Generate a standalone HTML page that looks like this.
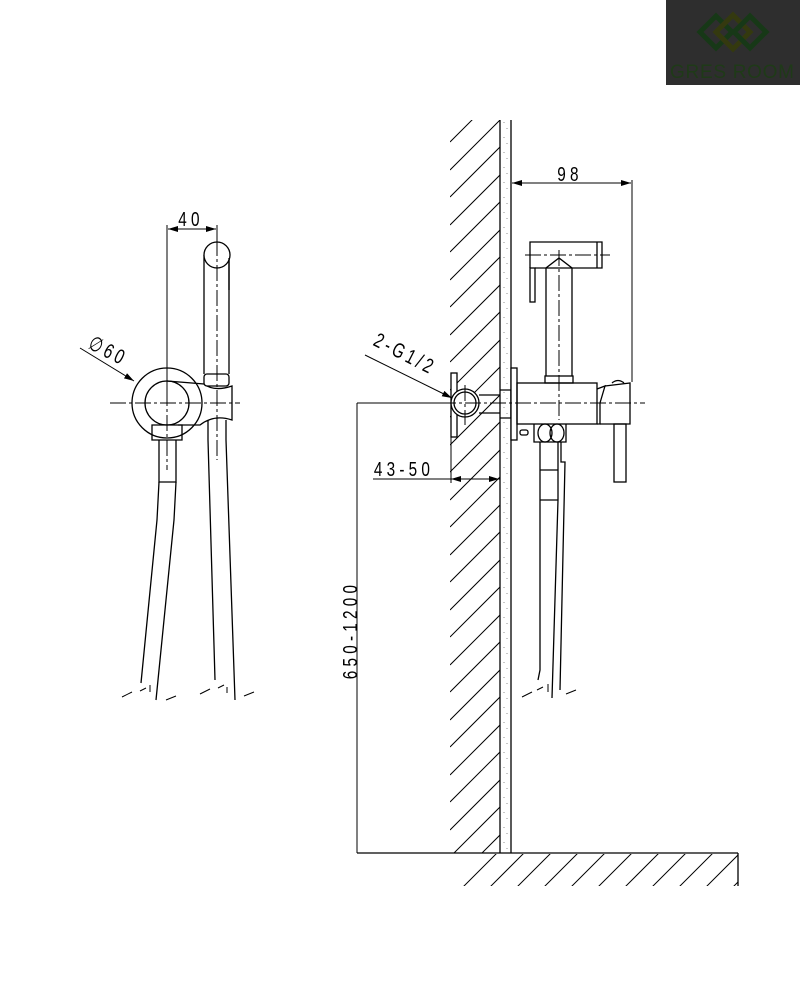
<!DOCTYPE html>
<html><head><meta charset="utf-8"><style>
html,body{margin:0;padding:0;background:#fff;width:800px;height:994px;overflow:hidden}
svg{display:block}
text{font-family:"Liberation Sans",sans-serif;fill:#000}
</style></head><body>
<svg width="800" height="994" viewBox="0 0 800 994" xmlns="http://www.w3.org/2000/svg">
<defs>
<marker id="a" markerWidth="10" markerHeight="6" refX="10" refY="3" orient="auto" markerUnits="userSpaceOnUse"><path d="M0,0 L10,3 L0,6 Z" fill="#000"/></marker>
<clipPath id="wall"><rect x="450" y="120" width="50" height="733"/></clipPath>
<clipPath id="floor"><rect x="450" y="854" width="288" height="32"/></clipPath>
</defs>
<!-- logo -->
<rect x="666" y="0" width="134" height="85" fill="#2e2e2e"/>
<g fill="none" stroke-width="5">
<path d="M700,32 L716,16 L732,32 L716,48 Z" stroke="#173817"/>
<path d="M716,32 L733,15 L750,32 L733,49 Z" stroke="#34390f"/>
<path d="M734,32 L750,16 L766,32 L750,48 Z" stroke="#173817"/>
</g>
<text x="732" y="78" font-size="19" text-anchor="middle" style="fill:#1f3a18" textLength="124">GRES ROOM</text>

<g stroke="#000" stroke-width="1.3" fill="none">
<g clip-path="url(#wall)" stroke-width="1">
<path d="M450,142 l80,-80 M450,170 l80,-80 M450,197 l80,-80 M450,225 l80,-80 M450,252 l80,-80 M450,280 l80,-80 M450,307 l80,-80 M450,335 l80,-80 M450,362 l80,-80 M450,390 l80,-80 M450,417 l80,-80 M450,445 l80,-80 M450,472 l80,-80 M450,500 l80,-80 M450,527 l80,-80 M450,555 l80,-80 M450,582 l80,-80 M450,610 l80,-80 M450,637 l80,-80 M450,665 l80,-80 M450,692 l80,-80 M450,720 l80,-80 M450,747 l80,-80 M450,775 l80,-80 M450,802 l80,-80 M450,830 l80,-80 M450,857 l80,-80 M450,885 l80,-80"/>
</g>
<line x1="500" y1="120" x2="500" y2="853"/>
<line x1="511" y1="120" x2="511" y2="853"/>
<g stroke-width="0.8" stroke="#777" stroke-dasharray="1 14"><line x1="504" y1="122" x2="504" y2="852"/><line x1="507" y1="128" x2="507" y2="852"/></g>
<line x1="357" y1="853" x2="738" y2="853"/>
<line x1="738" y1="853" x2="738" y2="886"/>
<g clip-path="url(#floor)" stroke-width="1">
<path d="M450,900 l50,-50 M477,900 l50,-50 M504,900 l50,-50 M531,900 l50,-50 M558,900 l50,-50 M585,900 l50,-50 M612,900 l50,-50 M639,900 l50,-50 M666,900 l50,-50 M693,900 l50,-50 M720,900 l50,-50"/>
</g>

<!-- LEFT VIEW -->
<circle cx="167" cy="403" r="35"/>
<circle cx="167" cy="403" r="22" fill="#fff"/>
<path d="M167,381 L204,384 Q214,392 232,386 L232,420 Q214,414 200,425 L178,425"/>
<rect x="204" y="374" width="25" height="12" rx="3" fill="#fff"/>
<path d="M204,374 L204,255 M229,374 L229,255"/>
<circle cx="217" cy="255" r="13" fill="#fff"/>
<path d="M229,258 L229,290"/>
<path d="M152,425 L182,425 L182,440 L152,440 Z"/>
<path d="M159,440 L159,482 L176,482 L176,440"/>
<path d="M159,482 L157,520 L141,683 M176,482 L174,520 L156,700"/>
<path d="M208,420 L208,440 L215,680 M226,420 L226,440 L235,700"/>
<g stroke-width="1" stroke-dasharray="16 3 3 3">
<line x1="110" y1="403" x2="240" y2="403"/>
<line x1="167" y1="365" x2="167" y2="470"/>
<line x1="217" y1="240" x2="217" y2="460"/>
</g>
<g stroke-width="1"><path d="M122,697 l10,-5 M140,691 l6,-3 M150,685 l0,7 M166,700 l10,-4 M200,694 l10,-5 M218,688 l6,-3 M227,687 l0,6 M244,696 l10,-4"/></g>
<line x1="167" y1="225" x2="167" y2="400" stroke-width="1"/>
<line x1="217" y1="225" x2="217" y2="240" stroke-width="1"/>
<line x1="190" y1="229" x2="168" y2="229" marker-end="url(#a)" stroke-width="1"/>
<line x1="190" y1="229" x2="216" y2="229" marker-end="url(#a)" stroke-width="1"/>
<line x1="80" y1="348" x2="134" y2="381" marker-end="url(#a)" stroke-width="1"/>

<!-- RIGHT VIEW -->
<rect x="451" y="373" width="6" height="64" fill="#fff"/>
<circle cx="465" cy="403" r="14" fill="#fff"/>
<circle cx="465" cy="403" r="11"/>
<path d="M479,395 L500,395 M479,413 L500,413"/>
<path d="M500,390 L511,390 L511,418 L500,418"/>
<rect x="511" y="368" width="6" height="72" fill="#fff"/>
<rect x="517" y="383" width="80" height="41"/>
<rect x="520" y="430" width="8" height="5" rx="2"/>
<path d="M597,389 L605,386 L600,403 L600,424 L597,424"/>
<path d="M605,386 L630,383 L630,424 L600,424"/>
<path d="M612,383 Q618,378 624,383"/>
<rect x="614" y="424" width="12" height="58"/>
<path d="M534,424 L534,442 L566,442 L566,424"/>
<ellipse cx="545" cy="433" rx="7" ry="9"/><ellipse cx="557" cy="433" rx="7" ry="9"/>
<path d="M540,442 L540,670 L538,680 M558,442 L558,500 L552,698 M561,442 L561,462 L565,462 L560,690"/>
<line x1="540" y1="470" x2="558" y2="470"/>
<line x1="540" y1="500" x2="558" y2="500"/>
<rect x="545" y="376" width="28" height="7"/>
<path d="M546,376 L546,268 L559,258 L572,268 L572,376"/>
<path d="M530,268 L530,242 L602,242 L602,268 L535,268"/>
<rect x="530" y="268" width="5" height="34"/>
<line x1="597" y1="242" x2="597" y2="268"/>
<g stroke-width="1"><path d="M522,697 l10,-5 M537,690 l6,-3 M548,684 l0,8 M566,694 l10,-4"/></g>
<g stroke-width="1" stroke-dasharray="16 3 3 3">
<line x1="440" y1="403" x2="645" y2="403"/>
<line x1="465" y1="385" x2="465" y2="425"/>
<line x1="559" y1="250" x2="559" y2="420"/>
<line x1="525" y1="255" x2="610" y2="255"/>
</g>
<g stroke-width="1">
<line x1="632" y1="180" x2="632" y2="382"/>
<line x1="570" y1="183" x2="512" y2="183" marker-end="url(#a)"/>
<line x1="570" y1="183" x2="631" y2="183" marker-end="url(#a)"/>
<line x1="365" y1="355" x2="452" y2="398" marker-end="url(#a)"/>
<line x1="373" y1="479" x2="500" y2="479"/>
<line x1="480" y1="479" x2="451" y2="479" marker-end="url(#a)"/>
<line x1="480" y1="479" x2="499" y2="479" marker-end="url(#a)"/>
<line x1="451" y1="420" x2="451" y2="483"/>
<line x1="357" y1="403" x2="452" y2="403"/>
<line x1="357" y1="403" x2="357" y2="853"/>
</g>
</g>
<g font-size="18">
<text transform="translate(191,226) scale(0.85,1.15)" text-anchor="middle" letter-spacing="5">40</text>
<text transform="translate(570,181) scale(0.85,1.15)" text-anchor="middle" letter-spacing="5">98</text>
<text transform="translate(404,476) scale(0.85,1.15)" text-anchor="middle" letter-spacing="5">43-50</text>
<text transform="translate(357,630) rotate(-90) scale(0.85,1.15)" text-anchor="middle" letter-spacing="5">650-1200</text>
<text transform="translate(402,360) rotate(27) scale(0.85,1.15)" text-anchor="middle" letter-spacing="4">2-G1/2</text>
<text transform="translate(105,357) rotate(27) scale(0.85,1.15)" text-anchor="middle" letter-spacing="4">∅60</text>
</g>
</svg>
</body></html>
